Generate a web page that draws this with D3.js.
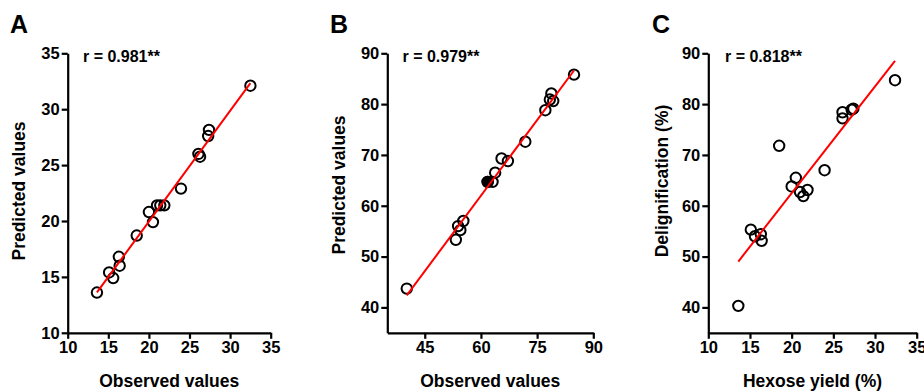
<!DOCTYPE html>
<html><head><meta charset="utf-8">
<script src="https://cdn.jsdelivr.net/npm/d3@7"></script>
<style>
body{margin:0;background:#fff}
text{font-family:"Liberation Sans",Arial,sans-serif;font-weight:bold;fill:#000}
</style></head>
<body><svg id="c" width="924" height="391"></svg>
<script>
// Panel A: observed vs predicted (hexose yield)
const obsA  = [13.6,15.1,15.6,16.3,16.4,18.5,20.0,20.5,21.0,21.4,21.9,23.95,26.1,26.3,27.3,27.4,32.5];
const predA = [13.6,15.4,14.9,16.8,16.0,18.7,20.8,19.9,21.4,21.4,21.4,22.9,26.0,25.75,27.6,28.15,32.1];
// Panel B: observed vs predicted (delignification)
const obsB  = [40.2,53.3,53.9,54.5,55.3,63.1,63.8,65.5,67.2,71.85,77.2,78.4,78.8,79.3,84.85];
const predB = [43.7,53.3,56.0,55.2,57.0,64.7,66.5,69.3,68.8,72.6,78.8,80.9,82.1,80.6,85.8];
const obsBFilled  = [61.8];
const predBFilled = [64.7];
// Panel C: hexose yield vs delignification
const hexC = [13.6,15.1,15.6,16.3,16.4,18.5,20.0,20.5,21.0,21.4,21.9,23.95,26.1,26.1,27.2,27.4,32.4];
const delC = [40.3,55.3,54.0,54.4,53.1,71.8,63.8,65.5,62.7,61.9,63.1,67.0,77.2,78.4,78.9,79.1,84.7];

const ticksA_x = [10,15,20,25,30,35], ticksA_y = [10,15,20,25,30,35];
const ticksB_x = [45,60,75,90],       ticksB_y = [40,50,60,70,80,90];
const ticksC_x = [10,15,20,25,30,35], ticksC_y = [40,50,60,70,80,90];

const panels = [
  {letter:"A", r:"r = 0.981**", xt:"Observed values", yt:"Predicted values",
   xs:obsA, ys:predA, fx:[], fy:[], xd:[10,35], yd:[10,35], xtk:ticksA_x, ytk:ticksA_y,
   x0:67.7, x1:270.7, lx:10, rx:83, ytx:25, ytc:191},
  {letter:"B", r:"r = 0.979**", xt:"Observed values", yt:"Predicted values",
   xs:obsB.concat(obsBFilled), ys:predB.concat(predBFilled), fx:obsBFilled, fy:predBFilled,
   xd:[35,90], yd:[35,90], xtk:ticksB_x, ytk:ticksB_y,
   x0:387.3, x1:593.3, lx:330, rx:402.5, ytx:345, ytc:185},
  {letter:"C", r:"r = 0.818**", xt:"Hexose yield (%)", yt:"Delignification (%)",
   xs:hexC, ys:delC, fx:[], fy:[], xd:[10,35], yd:[35,90], xtk:ticksC_x, ytk:ticksC_y,
   x0:708.3, x1:916.7, lx:652, rx:725, ytx:668, ytc:181}
];

const svg = d3.select("#c");
const yTop = 53.3, yBot = 332.8;

panels.forEach(p => {
  const g = svg.append("g");
  const x = d3.scaleLinear().domain(p.xd).range([p.x0, p.x1]);
  const y = d3.scaleLinear().domain(p.yd).range([yBot, yTop]);

  const xa = g.append("g").attr("transform", `translate(0,${yBot})`)
    .call(d3.axisBottom(x).tickValues(p.xtk).tickSize(6).tickSizeOuter(0).tickPadding(2).tickFormat(d3.format("d")));
  const ya = g.append("g").attr("transform", `translate(${p.x0},0)`)
    .call(d3.axisLeft(y).tickValues(p.ytk).tickSize(6).tickSizeOuter(0).tickPadding(2).tickFormat(d3.format("d")));
  [xa, ya].forEach(a => {
    a.selectAll("path,line").attr("stroke", "#000").attr("stroke-width", 2.2);
    a.selectAll("text").style("font-size", "16.5px").style("font-family", '"Liberation Sans",Arial,sans-serif').style("font-weight","bold").attr("fill","#000");
  });

  // points
  const pts = p.xs.map((v,i)=>[v,p.ys[i]]);
  g.selectAll("circle.o").data(pts).join("circle")
    .attr("cx", d=>x(d[0])).attr("cy", d=>y(d[1])).attr("r", 5.2)
    .attr("fill", "none").attr("stroke", "#000").attr("stroke-width", 2);
  g.selectAll("circle.f").data(p.fx.map((v,i)=>[v,p.fy[i]])).join("circle")
    .attr("cx", d=>x(d[0])).attr("cy", d=>y(d[1])).attr("r", 5.2)
    .attr("fill", "#000").attr("stroke", "#000").attr("stroke-width", 2);

  // regression line
  const mx = d3.mean(p.xs), my = d3.mean(p.ys);
  let sxy=0,sxx=0; p.xs.forEach((v,i)=>{sxy+=(v-mx)*(p.ys[i]-my); sxx+=(v-mx)*(v-mx);});
  const b = sxy/sxx, a0 = my - b*mx;
  const [xmn,xmx] = d3.extent(p.xs);
  g.append("line").attr("x1",x(xmn)).attr("y1",y(a0+b*xmn)).attr("x2",x(xmx)).attr("y2",y(a0+b*xmx))
    .attr("stroke","#ff0000").attr("stroke-width",2);

  // texts
  g.append("text").attr("x", p.lx).attr("y", 33).style("font-size","25px").text(p.letter);
  g.append("text").attr("x", p.rx).attr("y", 62).style("font-size","16px").text(p.r);
  g.append("text").attr("x", (p.x0+p.x1)/2).attr("y", 387).attr("text-anchor","middle").style("font-size","17.5px").text(p.xt);
  g.append("text").attr("transform", `translate(${p.ytx},${p.ytc}) rotate(-90)`).attr("text-anchor","middle").style("font-size","17.5px").text(p.yt);
});
</script></body></html>
